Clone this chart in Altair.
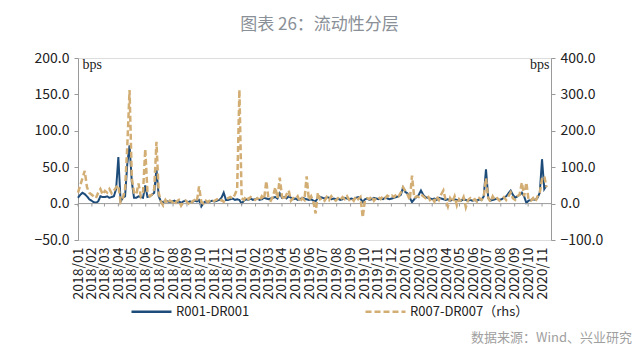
import altair as alt
import pandas as pd

# ---------------- data (5-day sampling from 2018-01-01) ----------------
start_date = "2018-01-01"
step_days = 5
series_names = ["R001-DR001", "R007-DR007（rhs）"]

r001_dr001 = [
    8, 12, 15, 13, 10, 6, 4,
    2, 1, 3, 10, 9,
    9, 10, 8, 9, 10, 20,
    64, 3, 8,
    10, 55, 80, 30, 8,
    8, 10, 9, 8,
    25, 9, 10, 12, 15, 48, 10,
    3, 2, 4, 3, 2, 3, 4, 2, 3, 1, 3, 4, 2, 3, 2, 4, 3, 5,
    -4, 1, 3, 2, 3, 4,
    3, 4, 5, 8, 15, 5,
    5, 6, 7, 5, 6, 5,
    0, 4, 6, 5, 7, 5,
    6, 7, 5, 6, 8, 7,
    6, 7, 8, 9, 7, 14,
    8, 9, 7, 10, 8, 6,
    7, 5, 6, 8, 7, 6,
    5, 6, 4, 3, 8, 9,
    8, 7, 9, 8, 6, 7,
    6, 7, 5, 6, 8, 7, 6,
    7, 6, 8, 9, 7, 2,
    6, 7, 5, 6, 8, 7,
    6, 7, 6, 8, 7, 6,
    7, 8, 9, 10, 12, 22,
    16, 14, 8, 2, 6, 9,
    12, 18, 12, 9, 8, 7,
    6, 7, 5, 8, 7, 6,
    5, 6, 4, 5, 6, 5,
    5, 4, 6, 5, 4, 5,
    4, 5, 4, 6, 5, 10,
    47,
    8, 4, 5, 6, 7, 5,
    6, 8, 10, 14, 18, 12,
    8, 10, 12, 15, 10, 1,
    4, 5, 6, 5, 8, 15,
    61, 20, 25,
]

r007_dr007 = [
    30, 50, 70, 90, 45, 30, 25,
    20, 15, 30, 40, 25,
    35, 30, 40, 28, 35, 45,
    50, 5, 15,
    40, 160, 312, 70, 30,
    25, 55, 20, 30,
    150, 30, 20, 25, 40, 170, 30,
    5, -5, 10, 0, 8, 5, -3, 6, 10, -6, 4, 8, 2, -4, 6, 10, 5, 47,
    5, 0, 8, 4, 10, 6,
    8, 12, 6, 10, 5, 12,
    15, 18, 14, 25, 40, 313,
    15, 10, 20, 12, 18, 14,
    10, 15, 8, 20, 12, 62,
    12, 8, 20, 45, 15, 71,
    20, 10, 25, 36, 8, 15,
    12, 20, 5, 15, 10, 75,
    10, 20, 5, -27, 30, 12,
    15, 8, 18, 10, 20, 12,
    8, 15, 10, 18, 12, 20, 10,
    15, 8, 20, 12, 18, -38,
    10, 15, 12, 20, 8, 15,
    18, 12, 20, 15, 22, 18,
    22, 18, 25, 20, 30, 45,
    35, 25, 10, 77, 15, 20,
    18, 25, 20, 15, 22, 10,
    15, 5, 20, 10, 25, 36,
    10, -8, 15, 5, 20, -5,
    12, 5, 18, -10, 10, 15,
    8, 12, 5, 15, 10, 20,
    70,
    15, 5, 20, 10, 15, 8,
    12, 18, 10, 20, 31, 15,
    10, 20, 25, 58, 20, 58,
    10, 8, 15, 5, 20, 30,
    68, 75, 45,
]

left_ticks = [-50, 0, 50, 100, 150, 200]
right_ticks = [-100, 0, 100, 200, 300, 400]
x_start, x_end = "2018-01-01", "2020-11-21"
month_starts = [f"{y}-{m:02d}-01" for y in (2018, 2019, 2020) for m in range(1, 13)
                if not (y == 2020 and m > 11)]

title_text = "图表 26：流动性分层"
source_text = "数据来源：Wind、兴业研究"

# ---------------- tables ----------------
dates = [(pd.Timestamp(start_date) + pd.Timedelta(days=step_days * k)).strftime("%Y-%m-%d")
         for k in range(len(r001_dr001))]
df = pd.DataFrame({
    "date": dates * 2,
    "value": r001_dr001 + r007_dr007,
    "series": [series_names[0]] * len(dates) + [series_names[1]] * len(dates),
})
ticks_df = pd.DataFrame({"date": month_starts, "value": 0, "y1": -4})
zero_df = pd.DataFrame({"value": [0]})
src_df = pd.DataFrame({"t": [source_text]})

def ms(s):
    return int(pd.Timestamp(s, tz="UTC").value // 10**6)

CJK = "Noto Sans CJK SC"
BLUE = "#1d4c7a"
TAN = "#d3ae74"
AX = "#9a9a9a"

x_scale = alt.Scale(type="utc", domain=[ms(x_start), ms(x_end)], nice=False)
x_axis = alt.Axis(values=[ms(d) for d in month_starts],
                  labelExpr="utcFormat(datum.value, '%Y/%m')",
                  labelAngle=270, labelFont=CJK, labelFontSize=14, labelColor="#222",
                  domain=False, ticks=False, grid=False, labelPadding=7,
                  labelFlush=False, labelOverlap=False, title=None)

left_scale = alt.Scale(domain=[-50, 200], nice=False, zero=False)
right_scale = alt.Scale(domain=[-100, 400], nice=False, zero=False)

left_axis = alt.Axis(values=left_ticks, format=".1f", title="bps", titleAngle=0,
                     titleX=4, titleY=10, titleAlign="left", titleBaseline="alphabetic",
                     titleFont="Liberation Serif", titleFontSize=14, titleFontWeight="normal",
                     titleColor="#222",
                     labelFont=CJK, labelFontSize=14, labelColor="#222",
                     domainColor=AX, tickColor=AX, tickSize=4, grid=False, labelPadding=5)
right_axis = alt.Axis(values=right_ticks, format=".1f", orient="right", title="bps",
                      titleAngle=0, titleX=-2, titleY=10, titleAlign="right",
                      titleBaseline="alphabetic", titleFont="Liberation Serif",
                      titleFontSize=14, titleFontWeight="normal", titleColor="#222",
                      labelFont=CJK, labelFontSize=14, labelColor="#222",
                      domainColor=AX, tickColor=AX, tickSize=4, grid=False, labelPadding=5)

legend = alt.Legend(title=None, orient="none", legendX=52, legendY=232,
                    direction="horizontal", symbolType="stroke",
                    symbolSize=1600, symbolStrokeWidth=2.5,
                    labelFont=CJK, labelFontSize=13, labelColor="#222",
                    columnPadding=110, labelOffset=3, padding=0)
color = alt.Color("series:N", scale=alt.Scale(domain=series_names, range=[BLUE, TAN]), legend=legend)
dash = alt.StrokeDash("series:N", scale=alt.Scale(domain=series_names, range=[[1, 0], [6, 3]]),
                      legend=legend)

X = alt.X("date:T", scale=x_scale, axis=x_axis)
YL = alt.Y("value:Q", scale=left_scale, axis=left_axis)
YR = alt.Y("value:Q", scale=right_scale, axis=right_axis)

zero_rule = alt.Chart(zero_df).mark_rule(color=AX, strokeWidth=1).encode(y=YL)
month_ticks = alt.Chart(ticks_df).mark_rule(color=AX, strokeWidth=1).encode(x=X, y=YL, y2="y1:Q")

blue_line = alt.Chart(df).transform_filter(
    alt.datum.series == series_names[0]
).mark_line(strokeWidth=2).encode(x=X, y=YL, color=color, strokeDash=dash)

src = alt.Chart(src_df).mark_text(font=CJK, fontSize=13, color="#a0a0a0", align="right",
                                  baseline="middle").encode(
    text="t:N", x=alt.value(554), y=alt.value(280))

left = alt.layer(blue_line, zero_rule, month_ticks, src)

tan_line = alt.Chart(df).transform_filter(
    alt.datum.series == series_names[1]
).mark_line(strokeWidth=2.5).encode(x=X, y=YR, color=color, strokeDash=dash)

chart = alt.layer(left, tan_line).resolve_scale(y="independent").properties(
    width=473, height=182,
    autosize=alt.AutoSizeParams(type="none"),
    padding={"left": 70, "top": 50, "right": 81, "bottom": 108},
    title=alt.TitleParams(title_text, anchor="middle", font=CJK, fontSize=17,
                          fontWeight="normal", color="#8a9097", offset=17, dx=5),
).configure_view(stroke=None).configure(background="white")

chart.save("out.html", embed_options={"renderer": "svg", "actions": False})
